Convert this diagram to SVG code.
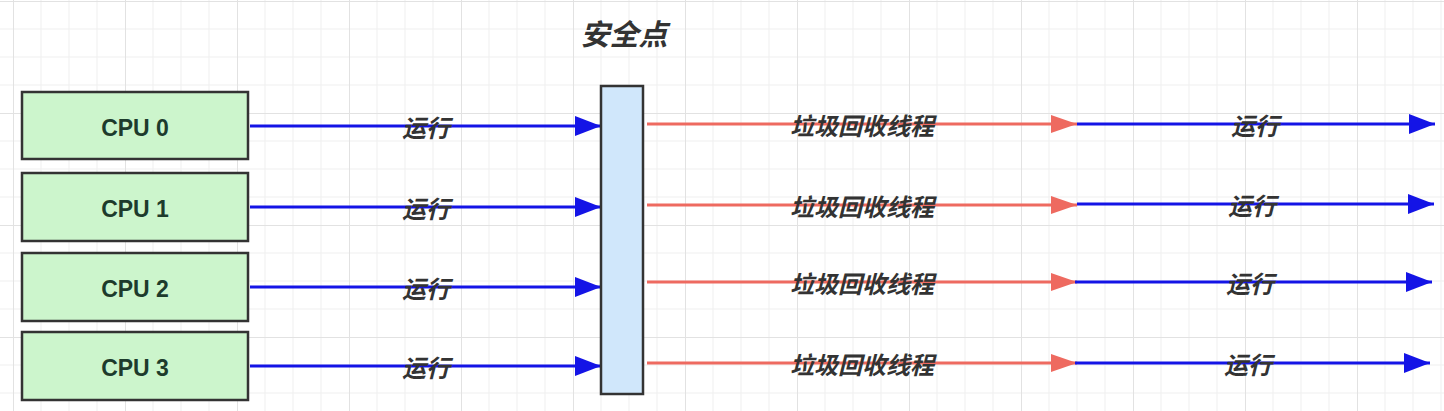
<svg xmlns="http://www.w3.org/2000/svg" width="1444" height="411" viewBox="0 0 1444 411">
<defs>
<pattern id="grid" x="13" y="1" width="112" height="112" patternUnits="userSpaceOnUse">
<path d="M28 0V112M56 0V112M84 0V112M0 28H112M0 56H112M0 84H112" stroke="#efefef" stroke-width="1" fill="none"/>
<path d="M0.5 0V112M0 0.5H112" stroke="#e2e2e2" stroke-width="1" fill="none"/>
</pattern>
<marker id="ab" markerUnits="userSpaceOnUse" markerWidth="28" markerHeight="22" refX="26" refY="10" orient="auto" viewBox="0 0 28 22">
<path d="M0 0L26 10L0 20Z" fill="#1414e6"/>
</marker>
<marker id="ar" markerUnits="userSpaceOnUse" markerWidth="28" markerHeight="22" refX="26" refY="10" orient="auto" viewBox="0 0 28 22">
<path d="M0 1L26 10L0 19Z" fill="#ee6a60"/>
</marker>
</defs>
<style>
.cpu{fill:#ccf5cc;stroke:#333;stroke-width:2.5}
.sp{fill:#d0e7fb;stroke:#333;stroke-width:2.5}
.ct{font-family:"Liberation Sans","Noto Sans CJK SC",sans-serif;font-weight:bold;font-size:23px;fill:#1d3b2c;text-anchor:middle}
.lb{font-family:"Noto Sans CJK SC",sans-serif;font-weight:bold;font-style:italic;font-size:24px;fill:#333;text-anchor:middle}
.tt{font-family:"Noto Sans CJK SC",sans-serif;font-weight:bold;font-style:italic;font-size:29px;fill:#333;text-anchor:middle}
.bl{stroke:#1414e6;stroke-width:3;fill:none;marker-end:url(#ab)}
.rd{stroke:#ee6a60;stroke-width:3;fill:none;marker-end:url(#ar)}
</style>
<rect width="1444" height="411" fill="#ffffff"/>
<rect width="1444" height="411" fill="url(#grid)"/>
<g id="connectors">
<path class="bl" d="M250 126H601"/>
<path class="bl" d="M250 207H601"/>
<path class="bl" d="M250 287H601"/>
<path class="bl" d="M250 366H601"/>
<path class="rd" d="M647 124H1077"/>
<path class="rd" d="M647 205H1077"/>
<path class="rd" d="M647 282H1077"/>
<path class="rd" d="M647 363H1077"/>
<path class="bl" d="M1077 124H1435"/>
<path class="bl" d="M1077 204H1434"/>
<path class="bl" d="M1075 282H1432"/>
<path class="bl" d="M1075 363H1430"/>
<text class="lb" x="426" y="137">运行</text>
<text class="lb" x="426" y="218">运行</text>
<text class="lb" x="426" y="298">运行</text>
<text class="lb" x="426" y="377">运行</text>
<text class="lb" x="862" y="135">垃圾回收线程</text>
<text class="lb" x="862" y="216">垃圾回收线程</text>
<text class="lb" x="862" y="293">垃圾回收线程</text>
<text class="lb" x="862" y="374">垃圾回收线程</text>
<text class="lb" x="1255" y="135">运行</text>
<text class="lb" x="1252" y="215">运行</text>
<text class="lb" x="1250" y="293">运行</text>
<text class="lb" x="1248" y="374">运行</text>
</g>
<g id="cpu0"><rect class="cpu" x="22" y="92" width="226" height="67"/><text class="ct" x="135" y="136">CPU 0</text></g>
<g id="cpu1"><rect class="cpu" x="22" y="173" width="226" height="68"/><text class="ct" x="135" y="217">CPU 1</text></g>
<g id="cpu2"><rect class="cpu" x="22" y="253" width="226" height="68"/><text class="ct" x="135" y="297">CPU 2</text></g>
<g id="cpu3"><rect class="cpu" x="22" y="332" width="226" height="68"/><text class="ct" x="135" y="376">CPU 3</text></g>
<g id="safepoint"><rect class="sp" x="601" y="86" width="42" height="308"/><text class="tt" x="624" y="45">安全点</text></g>
</svg>
